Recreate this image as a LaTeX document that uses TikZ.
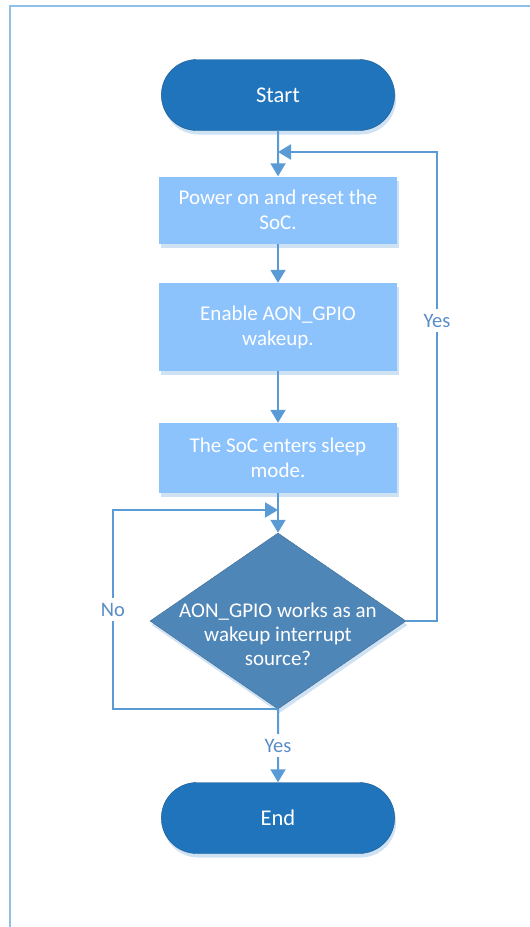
\documentclass[tikz,border=0pt]{standalone}
\usepackage{fontspec}
\setmainfont{Carlito}
\usetikzlibrary{shapes.geometric,shapes.misc,arrows.meta,shadows}
\definecolor{termblue}{HTML}{1F74BC}
\definecolor{boxblue}{HTML}{8CC3FD}
\definecolor{decblue}{HTML}{4F86B8}
\definecolor{lineblue}{HTML}{5B9BD5}
\definecolor{frameblue}{HTML}{8DC1E8}
\definecolor{shadeblue}{HTML}{CFE2F3}
\definecolor{labelblue}{HTML}{5A8CC6}
\tikzset{
	softshadow/.style={drop shadow={shadow xshift=1.5pt,shadow yshift=-4pt,fill=shadeblue,opacity=1}},
	term/.style={rounded rectangle,fill=termblue,draw=termblue!75!black,line width=0.4pt,minimum width=240pt,minimum height=71pt,text=white,font=\fontsize{22.5}{26}\selectfont,softshadow},
	procbox/.style={rectangle,fill=boxblue,minimum width=238pt,text=white,align=center,font=\fontsize{21}{25}\selectfont,softshadow},
	decbox/.style={diamond,fill=decblue,draw=decblue!80!black,line width=0.4pt,minimum width=256pt,minimum height=176pt,inner sep=0pt,softshadow},
	dectext/.style={align=center,text=white,font=\fontsize{21}{24}\selectfont},
	flow/.style={draw=lineblue,line width=2pt},
	yesno/.style={fill=white,text=labelblue,font=\fontsize{20.5}{24}\selectfont,inner xsep=2pt,inner ysep=5pt}
}
\begin{document}
\begin{tikzpicture}[>={Triangle[length=13pt,width=15pt]},x=1pt,y=-1pt]
		\useasboundingbox (0,0) rectangle (530,927);
		% frame
		\draw[frameblue,line width=2.5pt] (10,927) -- (10,6) -- (530,6);
		% steps
		\node[term] (start) at (278,95) {Start};
		\node[procbox,minimum height=67pt] (power) at (278,210) {Power on and reset the\\SoC.};
		\node[procbox,minimum height=88pt] (enable) at (278,327) {Enable AON\_GPIO\\wakeup.};
		\node[procbox,minimum height=70pt] (sleep) at (278,458) {The SoC enters sleep\\mode.};
		\node[decbox] (wake) at (278,621) {};
		\node[dectext] (waketxt) at (278,634) {AON\_GPIO works as an\\wakeup interrupt\\source?};
		\node[term] (end) at (278,818) {End};
		% merge points
		\coordinate (backin) at (278,152);
		\coordinate (noin) at (278,510);
		\coordinate (yescorner) at (437,152);
		\coordinate (nocorner) at (113,510);
		% connectors
		\draw[flow,->] (start) -- (power);
		\draw[flow,->] (power) -- (enable);
		\draw[flow,->] (enable) -- (sleep);
		\draw[flow,->] (sleep) -- (wake);
		\draw[flow,->] (wake.east) -| node[yesno,pos=0.82] {Yes} (yescorner) -- (backin);
		\draw[flow,->] (wake.south) -| node[yesno,pos=0.75] {No} (nocorner) -- (noin);
		\draw[flow,->] (wake.south) -- node[yesno] {Yes} (end);
		\end{tikzpicture}
\end{document}
